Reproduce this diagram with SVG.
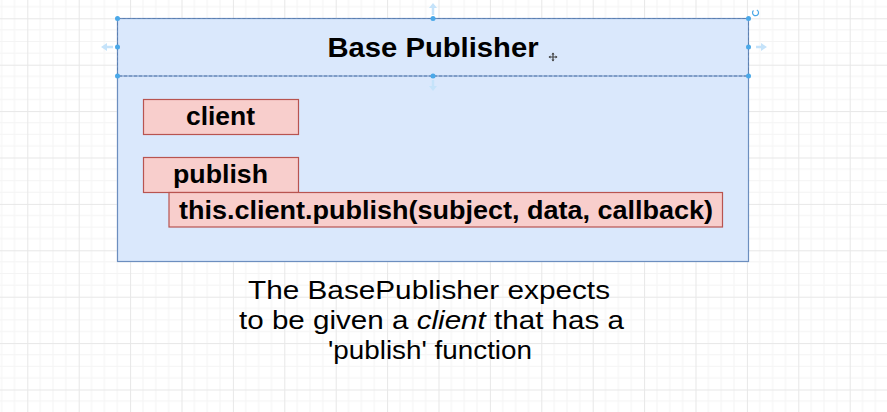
<svg xmlns="http://www.w3.org/2000/svg" width="887" height="412" viewBox="0 0 887 412">
  <defs>
    <pattern id="grid" patternUnits="userSpaceOnUse" x="27.3" y="18.3" width="51.4" height="46.4">
      <path d="M12.85 0V46.4M25.7 0V46.4M38.55 0V46.4M0 11.6H51.4M0 23.2H51.4M0 34.8H51.4" stroke="#f4f4f4" stroke-width="1" fill="none"/>
      <path d="M0.5 0V46.4M0 0.5H51.4" stroke="#e7e7e7" stroke-width="1" fill="none"/>
    </pattern>
    <style>
      .lane { fill: #dae8fc; stroke: #6c8ebf; stroke-width: 1.2; }
      .item { fill: #f8cecc; stroke: #b85450; stroke-width: 1.2; }
      .bold { font-family: "Liberation Sans", Arial, Helvetica, sans-serif; font-weight: bold; fill: #000; }
      .caption { font-family: "Liberation Sans", Arial, Helvetica, sans-serif; font-size: 25.5px; fill: #000; text-anchor: start; }
      .handle { fill: #4aa8e8; }
      .hint { stroke: #c5e3fa; stroke-width: 2.5; fill: none; }
      .hinthead { fill: #c5e3fa; }
    </style>
  </defs>

  <rect x="0" y="0" width="887" height="412" fill="#ffffff"/>
  <rect x="0" y="0" width="887" height="412" fill="url(#grid)"/>

  <g id="base-publisher">
    <rect class="lane" x="117.5" y="18.5" width="631" height="243"/>
    <line x1="117.5" y1="76" x2="748.5" y2="76" stroke="#6c8ebf" stroke-width="1"/>
    <rect x="117.5" y="18.5" width="631" height="57.5" fill="none" stroke="#5b7fb0" stroke-width="1" stroke-dasharray="3 2"/>
    <text class="bold" x="327.5" y="56.7" font-size="27" textLength="211" lengthAdjust="spacingAndGlyphs">Base Publisher</text>
  </g>

  <g id="client">
    <rect class="item" x="143.5" y="99.5" width="155" height="35"/>
    <text class="bold" x="186" y="125" font-size="25" textLength="69" lengthAdjust="spacingAndGlyphs">client</text>
  </g>

  <g id="publish">
    <rect class="item" x="143.5" y="157.5" width="155" height="35"/>
    <text class="bold" x="173" y="183" font-size="25" textLength="95" lengthAdjust="spacingAndGlyphs">publish</text>
  </g>

  <g id="publish-call">
    <rect class="item" x="169" y="192.5" width="553.5" height="34.5"/>
    <text class="bold" x="179" y="218.5" font-size="25" textLength="534" lengthAdjust="spacingAndGlyphs">this.client.publish(subject, data, callback)</text>
  </g>

  <g id="connectors"></g>

  <g id="caption">
    <text class="caption" x="248" y="298.5" textLength="362" lengthAdjust="spacingAndGlyphs">The BasePublisher expects</text>
    <text class="caption" x="239" y="328.5" textLength="385" lengthAdjust="spacingAndGlyphs">to be given a <tspan font-style="italic">client</tspan> that has a</text>
    <text class="caption" x="328" y="358.5" textLength="204" lengthAdjust="spacingAndGlyphs">'publish' function</text>
  </g>

  <g id="selection-ui">
    <path class="hint" d="M433 15V7M107 47H113M756 47H762M433 80V87"/>
    <path class="hinthead" d="M429 8L433 3L437 8Z M107 43L101 47L107 51Z M761 43L767 47L761 51Z M429 86L433 91L437 86Z"/>
    <circle class="handle" cx="117.5" cy="18.5" r="2.5"/>
    <circle class="handle" cx="433" cy="18.5" r="2.5"/>
    <circle class="handle" cx="748.5" cy="18.5" r="2.5"/>
    <circle class="handle" cx="117.5" cy="47" r="2.5"/>
    <circle class="handle" cx="748.5" cy="47" r="2.5"/>
    <circle class="handle" cx="117.5" cy="76" r="2.5"/>
    <circle class="handle" cx="433" cy="76" r="2.5"/>
    <circle class="handle" cx="748.5" cy="76" r="2.5"/>
    <path d="M753.5 10.5A3 3 0 1 0 756.8 10" fill="none" stroke="#4aa8e8" stroke-width="1.2"/>
    <path d="M553 53V61M549 57H557" stroke="#444" stroke-width="1.2"/>
    <path d="M551.5 54.5L553 52.5L554.5 54.5ZM551.5 59.5L553 61.5L554.5 59.5ZM550.5 55.5L548.5 57L550.5 58.5ZM555.5 55.5L557.5 57L555.5 58.5Z" fill="#444"/>
  </g>
</svg>
